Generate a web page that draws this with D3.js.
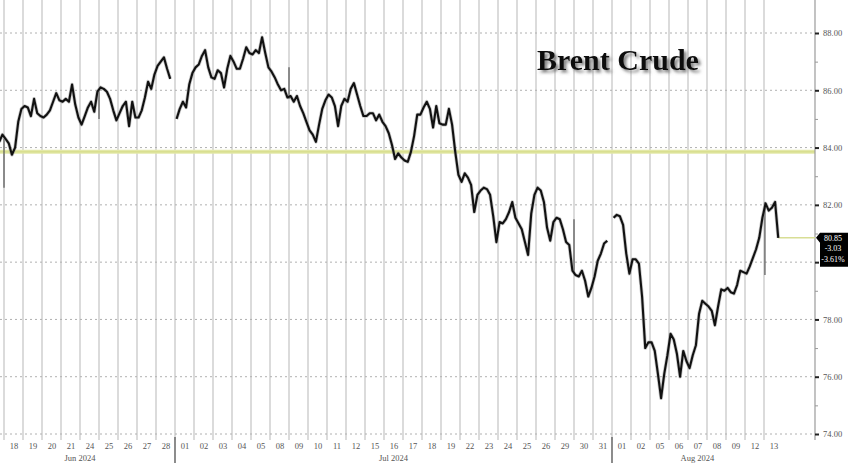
<!DOCTYPE html>
<html><head><meta charset="utf-8">
<script src="https://cdn.jsdelivr.net/npm/d3@7"></script>
<style>body{margin:0;background:#fff}svg{display:block}</style>
</head><body><svg id="c" width="848" height="463"></svg>
<script>
// ---------- data ----------
const dayLabels = ["18","19","20","21","24","25","26","27","28",
  "01","02","03","04","05","08","09","10","11","12","15","16","17","18","19","22","23","24","25","26","29","30","31",
  "01","02","05","06","07","08","09","12","13"];
const monthLabels = ["Jun 2024","Jul 2024","Aug 2024"];
const monthStart = [-1, 9, 32];   // session index where each month begins
const monthEnd = [9, 32, 41];
const samplesPerDay = 6;           // brent: 6 readings per session, first session = Jun 17 (partial)
const brent = [
  null,null,null,null,84.2,84.45,
  84.3,84.15,83.75,84.0,84.9,85.35,
  85.45,85.4,85.1,85.7,85.2,85.1,
  85.05,85.15,85.3,85.6,85.9,85.65,
  85.6,85.7,85.6,86.2,85.5,85.05,
  84.8,85.1,85.4,85.6,85.25,85.95,
  86.1,86.05,85.95,85.7,85.3,84.95,
  85.2,85.45,85.6,84.75,85.6,85.05,
  85.05,85.3,85.75,86.3,86.05,86.55,
  86.85,87.0,87.15,86.75,86.4,null,
  85.0,85.35,85.6,85.4,86.2,86.6,
  86.8,86.9,87.2,87.4,86.8,86.45,
  86.4,86.7,86.6,86.1,86.75,87.2,
  87.0,86.75,86.75,87.1,87.5,87.3,
  87.25,87.4,87.3,87.85,87.3,86.8,
  86.65,86.45,86.2,86.0,86.05,85.75,
  85.8,85.6,85.8,85.45,85.2,84.9,
  84.6,84.45,84.2,84.8,85.35,85.65,
  85.85,85.75,85.45,84.75,85.45,85.7,
  85.6,86.05,86.25,85.85,85.45,85.1,
  85.1,85.2,85.2,84.95,85.15,84.9,
  84.75,84.5,84.1,83.6,83.8,83.65,
  83.55,83.5,83.85,84.4,85.15,85.15,
  85.4,85.6,85.35,84.7,85.45,84.85,
  84.8,84.8,85.35,84.8,83.85,83.05,
  82.8,83.1,82.95,82.7,81.75,82.35,
  82.5,82.6,82.55,82.35,81.6,80.7,
  81.4,81.35,81.5,81.75,82.1,81.55,
  81.35,81.15,80.7,80.25,81.7,82.35,
  82.6,82.5,82.1,81.2,80.75,81.4,
  81.55,81.5,81.15,80.7,80.6,79.7,
  79.55,79.5,79.7,79.35,78.8,79.1,
  79.5,80.05,80.3,80.65,80.75,null,
  81.55,81.65,81.6,81.3,80.3,79.6,
  80.1,80.1,79.95,78.8,77.0,77.2,
  77.2,76.9,76.1,75.25,76.1,76.75,
  77.5,77.3,76.8,76.0,76.9,76.55,
  76.3,76.75,77.1,78.2,78.65,78.55,
  78.45,78.3,77.8,78.45,79.05,79.0,
  79.1,78.95,78.9,79.2,79.7,79.65,
  79.6,79.85,80.15,80.45,80.85,81.55,
  82.05,81.8,81.9,82.1,80.85,null
];
const spikeDay = [0, 5, 15, 30, 40.05];
const spikeFrom = [84.3, 86.0, 85.7, 79.6, 82.1];
const spikeTo = [82.6, 85.0, 86.8, 81.5, 79.55];
const refLevel = 83.85;
const lastValue = 80.85;
const lastTag = ["80.85", "-3.03", "-3.61%"];
const yMajor = [74,76,78,80,82,84,86,88];
const yMinor = [75,77,79,81,83,85,87];
const title = "Brent Crude";

// ---------- chart ----------
const svg = d3.select("#c");
const W = 848, H = 463, plotRight = 815, gridBottom = 440;
const x = d3.scaleLinear().domain([0, dayLabels.length]).range([4, 783]);
const y = d3.scaleLinear().domain([74, 88]).range([434, 33]);

svg.append("rect").attr("width", W).attr("height", H).attr("fill", "#fff");

const defs = svg.append("defs");
defs.append("clipPath").attr("id", "plotclip").append("rect")
  .attr("x", 0).attr("y", 0).attr("width", plotRight).attr("height", gridBottom);
const f = defs.append("filter").attr("id", "shadow").attr("x", "-10%").attr("y", "-20%").attr("width", "130%").attr("height", "160%");
f.append("feDropShadow").attr("dx", 2.5).attr("dy", 2.5).attr("stdDeviation", 1.6)
  .attr("flood-color", "#666").attr("flood-opacity", 0.85);

// vertical day gridlines
svg.append("g").selectAll("line").data(d3.range(0, dayLabels.length)).join("line")
  .attr("x1", d => x(d)).attr("x2", d => x(d))
  .attr("y1", 0).attr("y2", gridBottom)
  .attr("stroke", "#d2d2d2").attr("stroke-width", 1.6);

// horizontal dotted gridlines
svg.append("g").selectAll("line").data(yMajor).join("line")
  .attr("x1", 0).attr("x2", plotRight)
  .attr("y1", d => y(d)).attr("y2", d => y(d))
  .attr("stroke", "#b0b0b0").attr("stroke-width", 1).attr("stroke-dasharray", "2,3");

// reference level (yellow)
svg.append("line").attr("x1", 0).attr("x2", plotRight)
  .attr("y1", y(refLevel)).attr("y2", y(refLevel))
  .attr("stroke", "#e3e8a8").attr("stroke-width", 4);
svg.append("line").attr("x1", 0).attr("x2", plotRight)
  .attr("y1", y(refLevel)).attr("y2", y(refLevel))
  .attr("stroke", "#d3da84").attr("stroke-width", 1);

// month separators
svg.append("g").selectAll("line").data(monthStart.slice(1)).join("line")
  .attr("x1", d => x(d)).attr("x2", d => x(d))
  .attr("y1", gridBottom - 3).attr("y2", H)
  .attr("stroke", "#707070").attr("stroke-width", 1.6);

// right axis line
svg.append("line").attr("x1", plotRight).attr("x2", plotRight)
  .attr("y1", 0).attr("y2", gridBottom).attr("stroke", "#9a9a9a").attr("stroke-width", 1.2);

// price series
const pts = brent.map((v, i) => ({
  t: Math.floor(i / samplesPerDay) - 1 + ((i % samplesPerDay) + 0.5) / samplesPerDay, v }));
const line = d3.line().defined(d => d.v != null).x(d => x(d.t)).y(d => y(d.v));
const lastPt = pts.filter(d => d.v != null).slice(-1)[0];

// last value guide
svg.append("line").attr("x1", x(lastPt.t)).attr("x2", plotRight)
  .attr("y1", y(lastValue)).attr("y2", y(lastValue))
  .attr("stroke", "#d8de95").attr("stroke-width", 1.5);

const g = svg.append("g").attr("clip-path", "url(#plotclip)");
g.selectAll("line.spike").data(spikeDay).join("line").attr("class", "spike")
  .attr("x1", d => x(d)).attr("x2", d => x(d))
  .attr("y1", (d, i) => y(spikeFrom[i])).attr("y2", (d, i) => y(spikeTo[i]))
  .attr("stroke", "#555").attr("stroke-width", 1.2);
g.append("path").datum(pts).attr("d", line)
  .attr("fill", "none").attr("stroke", "#999").attr("stroke-width", 3.6)
  .attr("stroke-linejoin", "round").attr("opacity", 0.55);
g.append("path").datum(pts).attr("d", line)
  .attr("fill", "none").attr("stroke", "#111").attr("stroke-width", 2.1)
  .attr("stroke-linejoin", "round");

// right axis ticks & labels (80.00 is hidden under the last-value tag in the reference)
const axR = d3.axisRight(y).tickValues(yMajor).tickSize(4).tickPadding(4)
  .tickFormat(d => d === 80 ? "" : d3.format(".2f")(d));
const gR = svg.append("g").attr("transform", `translate(${plotRight},0)`).call(axR);
gR.select(".domain").remove();
gR.selectAll(".tick line").attr("stroke", "#222").attr("stroke-width", 2);
gR.selectAll(".tick text").attr("fill", "#555").style("font", "8.5px 'Liberation Serif', serif");
const axRm = d3.axisRight(y).tickValues(yMinor).tickSize(3).tickFormat("");
const gRm = svg.append("g").attr("transform", `translate(${plotRight},0)`).call(axRm);
gRm.select(".domain").remove();
gRm.selectAll(".tick line").attr("stroke", "#999");

// bottom axis: day labels
const axB = d3.axisBottom(x).tickValues(dayLabels.map((d, i) => i + 0.5))
  .tickSize(0).tickPadding(0).tickFormat((d, i) => dayLabels[i]);
const gB = svg.append("g").attr("transform", `translate(0,${gridBottom + 3})`).call(axB);
gB.select(".domain").remove();
gB.selectAll(".tick text").attr("fill", "#555").style("font", "8.5px 'Liberation Serif', serif");

// month labels
svg.append("g").selectAll("text").data(monthLabels).join("text")
  .attr("x", (d, i) => x((monthStart[i] + monthEnd[i]) / 2))
  .attr("y", 461).attr("text-anchor", "middle")
  .attr("fill", "#555").style("font", "8.5px 'Liberation Serif', serif")
  .text(d => d);

// last value tag
const tagY = y(lastValue);
const tag = svg.append("g");
tag.append("path")
  .attr("d", `M${plotRight + 1},${tagY} L${plotRight + 5},${tagY - 5} L${W},${tagY - 5} L${W},${tagY + 29} L${plotRight + 5},${tagY + 29} L${plotRight + 5},${tagY + 5} Z`)
  .attr("fill", "#000");
tag.selectAll("text").data(lastTag).join("text")
  .attr("x", 833).attr("y", (d, i) => tagY + 3 + i * 10.5)
  .attr("text-anchor", "middle").attr("fill", "#fff")
  .style("font", "8px 'Liberation Serif', serif").text(d => d);

// title
svg.append("text").attr("x", 537).attr("y", 70)
  .attr("fill", "#111").attr("filter", "url(#shadow)")
  .style("font", "bold 30px 'Liberation Serif', 'Times New Roman', serif")
  .text(title);
</script></body></html>
